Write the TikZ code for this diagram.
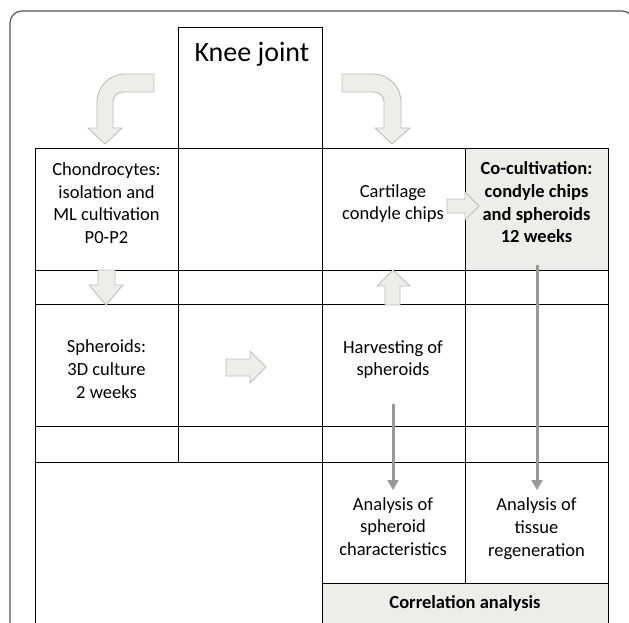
\documentclass[tikz,border=0pt]{standalone}
\usepackage{fontspec}
\setmainfont{Carlito}
\usetikzlibrary{arrows.meta}
\definecolor{paper}{HTML}{EFEDE7}
\definecolor{arrowline}{HTML}{BDBDB9}
\definecolor{arrowgray}{HTML}{999999}
\definecolor{framegray}{HTML}{555555}
\begin{document}
\begin{tikzpicture}[
		x=1pt, y=-1pt,
		every node/.style={font=\fontsize{18.5}{22.7}\selectfont},
		cell/.style={draw, line width=1.4pt, anchor=north west, inner sep=0pt,
				minimum width=143pt, minimum height=122pt},
		wide col/.style={minimum width=144pt},
		thin row/.style={minimum height=34pt},
		greybox/.style={fill=paper},
		cell text/.style={align=center, inner sep=0pt},
		block arrow/.style={draw=arrowline, fill=paper, line width=0.9pt},
		flow arrow/.style={draw=arrowgray, line width=3pt, -{Triangle[width=11pt,length=10pt]}}
	]
	\useasboundingbox (0,0) rectangle (629,622);
	\clip (0,0) rectangle (629,622);
	\draw[framegray, line width=1.2pt, rounded corners=12pt] (10,11) rectangle (634,700);

	% grid
	\node[cell, wide col, minimum height=121pt] (knee) at (178,27) {};
	\node[cell] (chondro) at (35,148) {};
	\node[cell, wide col] (emptyA) at (178,148) {};
	\node[cell] (chips) at (322,148) {};
	\node[cell, greybox] (cocult) at (465,148) {};
	\node[cell, thin row] (gapA1) at (35,270) {};
	\node[cell, wide col, thin row] (gapA2) at (178,270) {};
	\node[cell, thin row] (gapA3) at (322,270) {};
	\node[cell, thin row] (gapA4) at (465,270) {};
	\node[cell] (spheroids) at (35,304) {};
	\node[cell, wide col] (emptyB) at (178,304) {};
	\node[cell] (harvest) at (322,304) {};
	\node[cell] (emptyC) at (465,304) {};
	\node[cell, minimum height=36pt] (gapB1) at (35,426) {};
	\node[cell, wide col, minimum height=36pt] (gapB2) at (178,426) {};
	\node[cell, minimum height=36pt] (gapB3) at (322,426) {};
	\node[cell, minimum height=36pt] (gapB4) at (465,426) {};
	\node[cell, minimum width=287pt, minimum height=200pt] (emptyD) at (35,462) {};
	\node[cell, minimum height=121pt] (sphanalysis) at (322,462) {};
	\node[cell, minimum height=121pt] (tissue) at (465,462) {};
	\node[cell, greybox, minimum width=286pt, minimum height=100pt] (correlation) at (322,583) {};

	% texts
	\node[anchor=base west, font=\fontsize{28}{34}\selectfont] (kneetext) at (191,61) {Knee joint};
	\node[cell text] (chondrotext) at (106.5,203) {Chondrocytes:\\isolation and\\ML cultivation\\P0-P2};
	\node[cell text] (chipstext) at (393,203.5) {Cartilage\\condyle chips};
	\node[cell text, font=\fontsize{18.5}{22.7}\selectfont\bfseries] (coculttext) at (536.5,202.5) {Co-cultivation:\\condyle chips\\and spheroids\\12 weeks};
	\node[cell text] (spheroidstext) at (106.5,369) {Spheroids:\\3D culture\\2 weeks};
	\node[cell text] (harvesttext) at (393,359.5) {Harvesting of\\spheroids};
	\node[cell text] (sphanalysistext) at (393,526.5) {Analysis of\\spheroid\\characteristics};
	\node[cell text] (tissuetext) at (536.5,528.5) {Analysis of\\tissue\\regeneration};
	\node[cell text, font=\fontsize{18.5}{22.7}\selectfont\bfseries] (correlationtext) at (465,603) {Correlation analysis};

	% block arrows
	\draw[block arrow] (105,144) -- (122,128) -- (113,128) -- (113,102)
		.. controls (113,96.5) and (117.5,92) .. (123,92) -- (154,92) -- (154,74) -- (125,74)
		.. controls (109.5,74) and (97,86.5) .. (97,102) -- (97,128) -- (88,128) -- cycle;
	\draw[block arrow] (392,144) -- (410,128) -- (401,128) -- (401,102)
		.. controls (401,86.5) and (388.5,74) .. (373,74) -- (342,74) -- (342,92) -- (374,92)
		.. controls (379.5,92) and (384,96.5) .. (384,102) -- (384,128) -- (375,128) -- cycle;
	\draw[block arrow] (106,305) -- (123,285) -- (115,285) -- (115,270) -- (98,270) -- (98,285) -- (89,285) -- cycle;
	\draw[block arrow] (393,270) -- (410,286) -- (400,286) -- (400,305) -- (385,305) -- (385,286) -- (377,286) -- cycle;
	\draw[block arrow] (266,367) -- (250,351) -- (250,359) -- (226,359) -- (226,376) -- (250,376) -- (250,383) -- cycle;
	\draw[block arrow] (479,206) -- (465,192) -- (465,199) -- (447,199) -- (447,213) -- (465,213) -- (465,220) -- cycle;

	% grey arrows
	\coordinate (harvestout) at (393,404);
	\coordinate (sphanalysisin) at (393,490);
	\coordinate (cocultout) at (537,265);
	\coordinate (tissuein) at (537,490);
	\draw[flow arrow] (harvestout) -- (sphanalysisin);
	\draw[flow arrow] (cocultout) -- (tissuein);
\end{tikzpicture}
\end{document}
